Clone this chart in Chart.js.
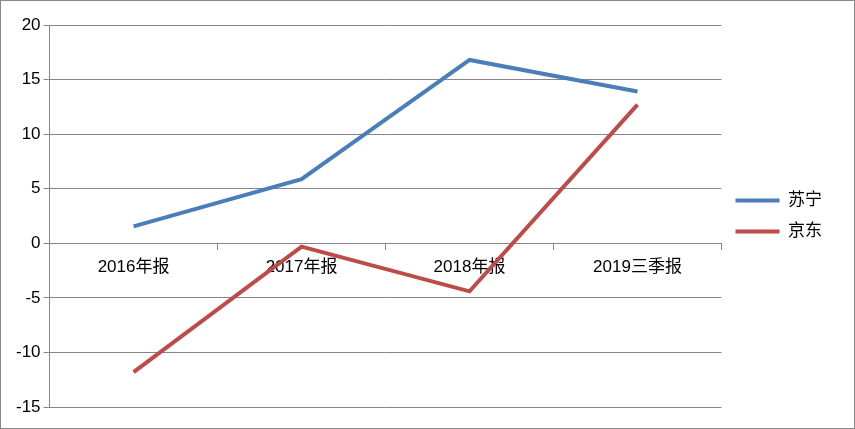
<!DOCTYPE html>
<html><head><meta charset="utf-8">
<script src="https://cdn.jsdelivr.net/npm/chart.js@4"></script>
<style>html,body{margin:0;padding:0;background:#fff}#w{width:853px;height:427px;border:1px solid #888;position:relative}</style>
</head><body><div id="w"><canvas id="c"></canvas></div>
<script>
const categories=['2016年报','2017年报','2018年报','2019三季报'];
const suning=[1.55,5.87,16.8,13.9];
const jd=[-11.8,-0.3,-4.4,12.7];
const yTicks=[-15,-10,-5,0,5,10,15,20];
const font={family:'"Liberation Sans","Noto Sans CJK SC",sans-serif',size:17};
new Chart(document.getElementById('c'),{
 type:'line',
 data:{labels:categories,datasets:[
  {label:'苏宁',data:suning,borderColor:'#4a7ebb',backgroundColor:'#4a7ebb',borderWidth:4,pointRadius:0,tension:0},
  {label:'京东',data:jd,borderColor:'#be4b48',backgroundColor:'#be4b48',borderWidth:4,pointRadius:0,tension:0}]},
 options:{responsive:true,maintainAspectRatio:false,animation:false,
  layout:{padding:{top:24,right:22,left:12,bottom:21}},
  plugins:{tooltip:{enabled:false},legend:{position:'right',labels:{font,color:'#000',usePointStyle:true,pointStyle:'line',pointStyleWidth:44,padding:14,boxHeight:4}}},
  scales:{
   x:{position:{y:0},offset:true,grid:{display:true,drawOnChartArea:false,drawTicks:true,tickLength:6,offset:true,color:'#868686'},border:{color:'#868686'},ticks:{font,color:'#000',padding:8}},
   y:{min:-15,max:20,afterBuildTicks:a=>{a.ticks=yTicks.map(v=>({value:v}))},grid:{color:'#868686',tickLength:6},border:{color:'#868686'},ticks:{font,color:'#000'}}
  }}
});
</script></body></html>
